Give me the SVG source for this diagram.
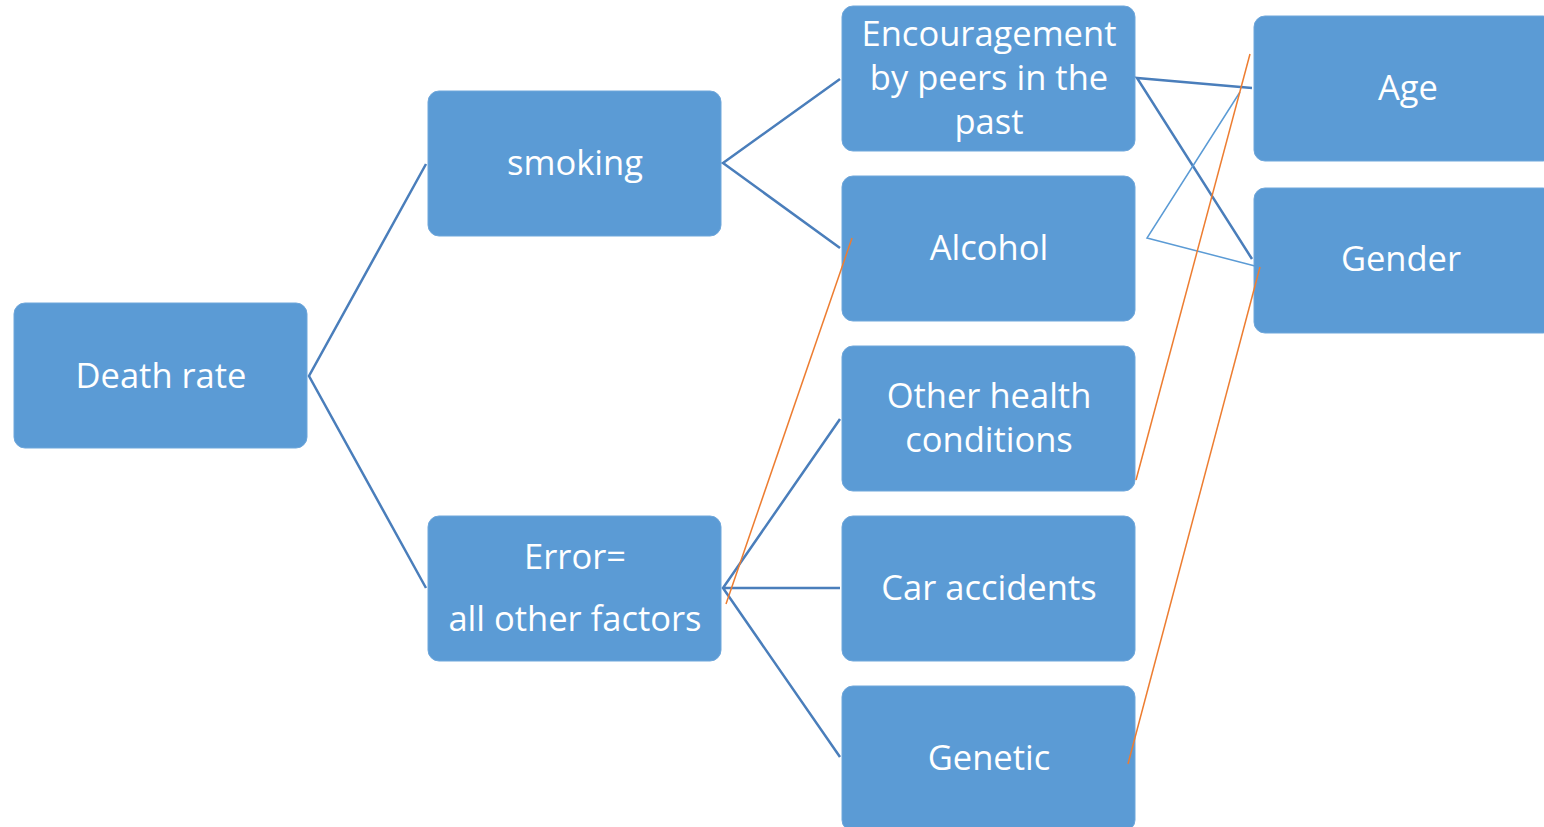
<svg xmlns="http://www.w3.org/2000/svg" width="1544" height="827" viewBox="0 0 1544 827">
<style>
.n{fill:#5b9bd5;stroke:#6fa7db;stroke-width:1}
.t{fill:#fff;font-family:"Open Sans","Noto Sans",sans-serif;font-size:34.5px;text-anchor:middle}
.c{stroke:#4a7ebb;stroke-width:2.5;fill:none}
.ct{stroke:#5b9bd5;stroke-width:1.5;fill:none}
.o{stroke:#ed7d31;stroke-width:1.5;fill:none}
</style>
<rect width="1544" height="827" fill="#fff"/>
<g id="death-rate"><rect class="n" x="14" y="303" width="293" height="145" rx="11"/><text class="t" x="161" y="388">Death rate</text></g>
<g id="smoking"><rect class="n" x="428" y="91" width="293" height="145" rx="11"/><text class="t" x="575" y="175">smoking</text></g>
<g id="error"><rect class="n" x="428" y="516" width="293" height="145" rx="11"/><text class="t" x="575" y="569">Error=</text><text class="t" x="575" y="631">all other factors</text></g>
<g id="encouragement"><rect class="n" x="842" y="6" width="293" height="145" rx="11"/><text class="t" x="989" y="46">Encouragement</text><text class="t" x="989" y="90">by peers in the</text><text class="t" x="989" y="134">past</text></g>
<g id="alcohol"><rect class="n" x="842" y="176" width="293" height="145" rx="11"/><text class="t" x="989" y="260">Alcohol</text></g>
<g id="other-health"><rect class="n" x="842" y="346" width="293" height="145" rx="11"/><text class="t" x="989" y="408">Other health</text><text class="t" x="989" y="452">conditions</text></g>
<g id="car-accidents"><rect class="n" x="842" y="516" width="293" height="145" rx="11"/><text class="t" x="989" y="600">Car accidents</text></g>
<g id="genetic"><rect class="n" x="842" y="686" width="293" height="145" rx="11"/><text class="t" x="989" y="770">Genetic</text></g>
<g id="age"><rect class="n" x="1254" y="16" width="300" height="145" rx="11"/><text class="t" x="1408" y="100">Age</text></g>
<g id="gender"><rect class="n" x="1254" y="188" width="300" height="145" rx="11"/><text class="t" x="1401" y="271">Gender</text></g>
<g id="connectors">
<path class="c" d="M426,164 L309,376 L426,588"/>
<path class="c" d="M840,79 L723,163 L840,248"/>
<path class="c" d="M840,419 L723,588 L840,757 M723,588 L840,588"/>
<path class="c" d="M1252,88 L1137,78 L1252,259"/>
<path class="ct" d="M1240,92 L1147,238 L1255,266"/>
<path class="o" d="M1250,54 L1136,480"/>
<path class="o" d="M1260,267 L1128,764"/>
<path class="o" d="M852,238 L726,604"/>
</g>
</svg>
